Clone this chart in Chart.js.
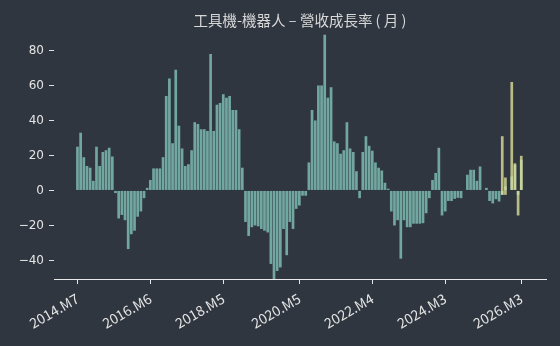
<!DOCTYPE html>
<html>
<head>
<meta charset="utf-8">
<script src="https://cdn.jsdelivr.net/npm/chart.js@4/dist/chart.umd.min.js"></script>
<style>
  html, body { margin: 0; padding: 0; background: #2f3640; }
  #wrap { width: 560px; height: 346px; }
</style>
</head>
<body>
<div id="wrap"><canvas id="chart_1" width="560" height="346"></canvas></div>
<script>
// monthly revenue growth (%), 2014.M7 .. 2026.M3
const startYear = 2014;
const startMonth = 7;
const growth = [
  25, 33, 19, 14, 13, 5.5, 25, 14, 22, 23, 24.4, 19.4,
  -1.5, -16, -14, -17, -33.5, -25, -23, -15, -12, -4.4, 1.5, 6,
  12.6, 12.6, 12.6, 19, 54, 64, 27, 69, 37, 24, 14, 15,
  23, 39, 38, 35, 35, 34, 78, 34, 49, 50, 55, 53,
  54, 46, 46, 35, 13, -18, -26, -21, -20, -20.5, -22, -23,
  -24, -42, -51, -46, -44, -22, -37, -18, -22, -10.5, -8.6, -3,
  -3, 16, 46, 40, 60, 60, 89, 53, 59, 28, 27, 21,
  23, 39, 24, 22, 11, -4.4, 22, 31, 25.5, 22.7, 16, 13,
  11.4, 4.4, 1, -12, -20, -17, -39, -17, -21, -21, -19, -19,
  -19, -18.7, -13, -4.4, 6, 10, 24.4, -14.3, -12, -6, -6, -4.8,
  -4.2, -4.4, 0, 9, 11.8, 11.8, 5.5, 13.7, 0, 1.5, -6, -7.4,
  -5, -6.3, -2.5, 2.3, 0, 8, 14.7, -2.5, 17.5
];
// highlighted latest months (yellow)
const latestIdx = [134, 135, 137, 138, 139, 140];
const latest = [[-2.5, 31], [-2.5, 7.4], 62, 15.5, -14.3, 19.8];

const tickIdx = [0, 23, 46, 70, 93, 116, 140];
const tickLabels = ["2014.M7", "2016.M6", "2018.M5", "2020.M5", "2022.M4", "2024.M3", "2026.M3"];
const yTicks = [-40, -20, 0, 20, 40, 60, 80];

const months = growth.map(function (v, i) {
  const m = startMonth - 1 + i;
  return (startYear + Math.floor(m / 12)) + ".M" + ((m % 12) + 1);
});

const ctx1 = document.getElementById("chart_1").getContext("2d");
var myChart1 = new Chart(ctx1, {
  type: "bar",
  data: {
    datasets: [
      {
        label: "營收成長率",
        data: growth.map(function (v, i) { return { x: i, y: v }; }),
        backgroundColor: "#72a7a0",
        borderWidth: 0,
        grouped: false,
        barPercentage: 0.85,
        categoryPercentage: 1,
        order: 2,
      },
      {
        label: "latest",
        data: latest.map(function (v, i) { return { x: latestIdx[i], y: v }; }),
        backgroundColor: "rgba(222, 222, 150, 0.8)",
        borderWidth: 0,
        grouped: false,
        barPercentage: 0.85,
        categoryPercentage: 1,
        order: 1,
      },
    ],
  },
  options: {
    responsive: false,
    animation: false,
    layout: {
      padding: { left: 0, right: 14, top: 0, bottom: 0 },
    },
    plugins: {
      legend: { display: false },
      tooltip: { enabled: false },
      title: {
        display: true,
        fullSize: false,
        text: "工具機-機器人 – 營收成長率 ( 月 )",
        color: "#d8d8d8",
        font: { family: "'Noto Sans CJK TC', 'Noto Sans'", size: 14.5, weight: "normal", lineHeight: 1.2 },
        padding: { top: 11.3, bottom: 1.3 },
      },
    },
    scales: {
      x: {
        type: "linear",
        offset: false,
        min: -7.4,
        max: 147.8,
        afterFit: function (scale) { scale.height = 67; },
        afterBuildTicks: function (scale) {
          scale.ticks = tickIdx.map(function (v) { return { value: v }; });
        },
        ticks: {
          autoSkip: false,
          minRotation: 30,
          maxRotation: 30,
          padding: 6,
          color: "#e4e4e4",
          font: { family: "'Noto Sans CJK TC', 'Noto Sans'", size: 14 },
          callback: function (value) {
            return tickLabels[tickIdx.indexOf(value)];
          },
        },
        grid: {
          offset: false,
          drawOnChartArea: false,
          drawTicks: true,
          tickLength: 5,
          tickColor: "#e8e8e8",
        },
        border: { display: true, color: "#e8e8e8", width: 1 },
      },
      y: {
        min: -50.6,
        max: 91.7,
        afterFit: function (scale) { scale.width = 54; },
        afterBuildTicks: function (scale) {
          scale.ticks = yTicks.map(function (v) { return { value: v }; });
        },
        ticks: {
          padding: 5,
          color: "#e4e4e4",
          font: { family: "'DejaVu Sans'", size: 12 },
          callback: function (value) {
            return value < 0 ? "\u2212" + Math.abs(value) : "" + value;
          },
        },
        grid: {
          drawOnChartArea: false,
          drawTicks: true,
          tickLength: 5,
          tickColor: "#e0e0e0",
        },
        border: { display: false },
      },
    },
  },
});
</script>
</body>
</html>
